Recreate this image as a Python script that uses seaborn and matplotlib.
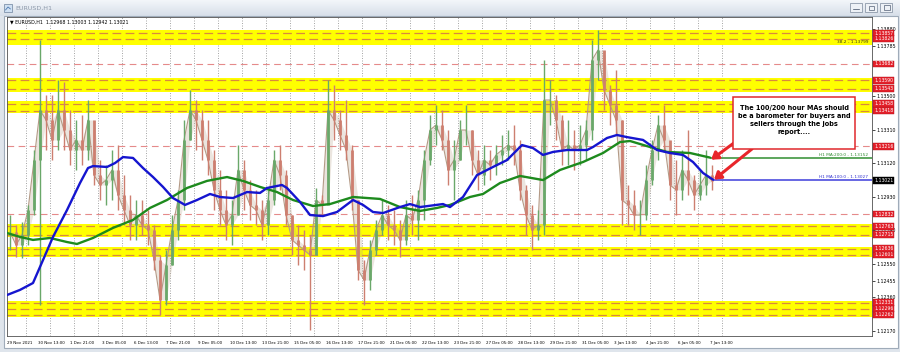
import numpy as np
import matplotlib
matplotlib.use("Agg")
import matplotlib.pyplot as plt
import seaborn as sns
from matplotlib.patches import Rectangle, FancyArrowPatch
from matplotlib.colors import LinearSegmentedColormap
from matplotlib.transforms import blended_transform_factory

sns.set_style("white")
plt.rcParams['font.family'] = ['DejaVu Sans']

# ---------------- data (EURUSD H1) ----------------
# bars grouped every 6 hours; x = hours since start of window
bar_x = list(range(3, 706, 6))
highs = [1.12827, 1.12770, 1.12787, 1.12884, 1.13195, 1.13818, 1.13506, 1.13506, 1.13591, 1.13580,
         1.13421, 1.13365, 1.13393, 1.13478, 1.13308, 1.13138, 1.13110, 1.13195, 1.13223, 1.13053,
         1.12940, 1.12912, 1.12912, 1.12855, 1.12770, 1.12601, 1.12629, 1.12827, 1.12969, 1.13365,
         1.13535, 1.13478, 1.13421, 1.13365, 1.13195, 1.13082, 1.12969, 1.12912, 1.13223, 1.13138,
         1.13025, 1.12969, 1.12912, 1.12969, 1.13195, 1.13223, 1.13082, 1.12827, 1.12770, 1.12742,
         1.12714, 1.12980, 1.12940, 1.13591, 1.13563, 1.13421, 1.13478, 1.13223, 1.12912, 1.12572,
         1.12686, 1.12799, 1.12912, 1.12884, 1.12855, 1.12799, 1.12912, 1.12940, 1.12969, 1.13195,
         1.13393, 1.13450, 1.13421, 1.13308, 1.13252, 1.13365, 1.13450, 1.13308, 1.13195, 1.13223,
         1.13195, 1.13223, 1.13280, 1.13308, 1.13336, 1.13252, 1.12997, 1.12884, 1.12855, 1.13704,
         1.13591, 1.13506, 1.13393, 1.13365, 1.13308, 1.13336, 1.13365, 1.13818, 1.13874, 1.13733,
         1.13563, 1.13648, 1.13365, 1.12997, 1.12969, 1.12912, 1.13110, 1.13252, 1.13393, 1.13450,
         1.13223, 1.13138, 1.13195, 1.13308, 1.13053, 1.13082, 1.13195, 1.13110]
lows = [1.12629, 1.12589, 1.12584, 1.12657, 1.12827, 1.12318, 1.13195, 1.13138, 1.13195, 1.13195,
        1.13110, 1.13082, 1.13110, 1.13138, 1.12997, 1.12912, 1.12884, 1.12912, 1.12855, 1.12770,
        1.12686, 1.12686, 1.12714, 1.12657, 1.12516, 1.12261, 1.12318, 1.12544, 1.12686, 1.12855,
        1.13252, 1.13195, 1.13138, 1.13053, 1.12855, 1.12770, 1.12686, 1.12657, 1.12827, 1.12855,
        1.12799, 1.12770, 1.12686, 1.12714, 1.12884, 1.12969, 1.12770, 1.12601, 1.12544, 1.12516,
        1.12176, 1.12629, 1.12827, 1.12912, 1.13252, 1.13195, 1.13138, 1.12855, 1.12459, 1.12318,
        1.12403, 1.12601, 1.12714, 1.12686, 1.12657, 1.12589, 1.12657, 1.12714, 1.12686, 1.12799,
        1.13110, 1.13223, 1.13195, 1.12997, 1.12912, 1.13138, 1.13223, 1.13053, 1.12969, 1.12997,
        1.13025, 1.13053, 1.13110, 1.13138, 1.13110, 1.12912, 1.12714, 1.12629, 1.12686, 1.12714,
        1.13336, 1.13252, 1.13110, 1.13110, 1.13082, 1.13110, 1.13138, 1.13252, 1.13591, 1.13421,
        1.13336, 1.13280, 1.12770, 1.12770, 1.12742, 1.12714, 1.12799, 1.12997, 1.13138, 1.13195,
        1.12912, 1.12827, 1.12912, 1.12940, 1.12855, 1.12912, 1.12940, 1.12969]
closes = [1.12731, 1.12657, 1.12714, 1.12855, 1.13138, 1.13421, 1.13365, 1.13252, 1.13421, 1.13308,
          1.13195, 1.13252, 1.13195, 1.13365, 1.13053, 1.12997, 1.13025, 1.13082, 1.12940, 1.12855,
          1.12770, 1.12827, 1.12770, 1.12742, 1.12572, 1.12346, 1.12544, 1.12742, 1.12912, 1.13252,
          1.13421, 1.13365, 1.13252, 1.13138, 1.12969, 1.12855, 1.12770, 1.12827, 1.13082, 1.12969,
          1.12884, 1.12855, 1.12770, 1.12912, 1.13138, 1.13053, 1.12827, 1.12686, 1.12657, 1.12629,
          1.12601, 1.12912, 1.12884, 1.13421, 1.13365, 1.13280, 1.13195, 1.12912, 1.12516, 1.12459,
          1.12629, 1.12742, 1.12827, 1.12770, 1.12742, 1.12686, 1.12827, 1.12799, 1.12912, 1.13138,
          1.13308, 1.13336, 1.13252, 1.13082, 1.13138, 1.13308, 1.13308, 1.13138, 1.13053, 1.13138,
          1.13110, 1.13167, 1.13195, 1.13223, 1.13195, 1.12969, 1.12827, 1.12742, 1.12770, 1.13478,
          1.13478, 1.13365, 1.13195, 1.13223, 1.13195, 1.13223, 1.13308, 1.13704, 1.13761, 1.13535,
          1.13450, 1.13365, 1.12912, 1.12884, 1.12827, 1.12827, 1.13025, 1.13195, 1.13336, 1.13252,
          1.12997, 1.12969, 1.13082, 1.13025, 1.12940, 1.12997, 1.13053, 1.13021]

ma100_x = [0, 13, 26, 36, 46, 60, 73, 81, 86, 100, 108, 116, 126, 136, 146, 156, 166, 178, 190, 203,
           213, 226, 240, 253, 260, 275, 280, 293, 303, 316, 330, 346, 356, 366, 376, 393, 403, 413, 436, 443,
           456, 470, 486, 500, 515, 526, 536, 546, 560, 580, 586, 600, 610, 620, 636, 650, 663, 676, 686, 696, 706]
ma100 = [1.12374, 1.12403, 1.12442, 1.12572, 1.12703, 1.12855, 1.13008, 1.13093, 1.13104, 1.13099,
         1.13121, 1.13155, 1.13150, 1.13093, 1.13042, 1.12986, 1.12923, 1.12884, 1.12912, 1.12946,
         1.12929, 1.12923, 1.12957, 1.12952, 1.12980, 1.12997, 1.12980, 1.12901, 1.12827, 1.12821,
         1.12844, 1.12912, 1.12884, 1.12844, 1.12838, 1.12872, 1.12889, 1.12872, 1.12889, 1.12872,
         1.12929, 1.13053, 1.13099, 1.13138, 1.13223, 1.13206, 1.13167, 1.13184, 1.13195, 1.13195,
         1.13212, 1.13263, 1.13280, 1.13268, 1.13252, 1.13195, 1.13178, 1.13167, 1.13127, 1.13065, 1.13027]
ma200_x = [0, 13, 26, 43, 60, 70, 86, 106, 126, 143, 160, 180, 200, 220, 236, 253, 270, 286, 306, 323,
           346, 373, 393, 413, 430, 443, 463, 476, 493, 513, 536, 553, 576, 596, 613, 623, 643, 660, 683, 703]
ma200 = [1.12725, 1.12703, 1.12686, 1.12697, 1.12674, 1.12663, 1.12697, 1.12754, 1.12799, 1.12867,
         1.12912, 1.12980, 1.13020, 1.13042, 1.13020, 1.12986, 1.12957, 1.12912, 1.12878, 1.12889,
         1.12929, 1.12918, 1.12872, 1.12850, 1.12867, 1.12884, 1.12929, 1.12946, 1.13008, 1.13048,
         1.13025, 1.13082, 1.13127, 1.13178, 1.13240, 1.13246, 1.13212, 1.13184, 1.13178, 1.13152]

band_lo = [1.13790, 1.13525, 1.13405, 1.12700, 1.12588, 1.12250]
band_hi = [1.13872, 1.13605, 1.13470, 1.12778, 1.12648, 1.12338]
band_lines = [1.13857, 1.13826, 1.13590, 1.13543, 1.13458, 1.13418, 1.12763, 1.12715,
              1.12636, 1.12601, 1.12331, 1.12296, 1.12262]
red_lines = [1.13682, 1.13216, 1.12832]
last_price = 1.13021
price_ticks = [1.12170, 1.12360, 1.12455, 1.12550, 1.12740, 1.12930, 1.13120, 1.13310, 1.13500,
               1.13785, 1.13880]
time_ticks = [0, 31, 63, 95, 127, 159, 191, 223, 255, 287, 319, 351, 383, 415, 447, 479, 511,
              543, 575, 607, 639, 671, 703]
time_labels = ["29 Nov 2021", "30 Nov 13:00", "1 Dec 21:00", "3 Dec 05:00", "6 Dec 13:00",
               "7 Dec 21:00", "9 Dec 05:00", "10 Dec 13:00", "13 Dec 21:00", "15 Dec 05:00",
               "16 Dec 13:00", "17 Dec 21:00", "21 Dec 05:00", "22 Dec 13:00", "23 Dec 21:00",
               "27 Dec 05:00", "28 Dec 13:00", "29 Dec 21:00", "31 Dec 05:00", "3 Jan 13:00",
               "4 Jan 21:00", "6 Jan 05:00", "7 Jan 13:00"]
grid_x = list(range(19, 716, 24))
note_lines = ["The 100/200 hour MAs should", "be a barometer for buyers and",
              "sellers through the jobs", "report...."]

# ---------------- figure & window chrome ----------------
fig = plt.figure(figsize=(9, 3.52), dpi=100)
fig.patch.set_facecolor('#dfe5ec')
bg = fig.add_axes([0, 0, 1, 1])
bg.axis('off')
grad = np.linspace(0, 1, 32).reshape(-1, 1)
bg.imshow(grad, extent=[0, 900, 16, 0], aspect='auto',
          cmap=LinearSegmentedColormap.from_list('tb', ['#f3f6fa', '#d7dfe9']))
bg.add_patch(Rectangle((4, 16), 894, 332, facecolor='white', edgecolor='#9fabb9', lw=0.8))
bg.add_patch(Rectangle((4, 4), 8, 8, facecolor='#cfe0f2', edgecolor='#7f93ab', lw=0.6))
bg.plot([5.5, 8, 10.5], [10, 7, 9], color='#4a78b0', lw=0.6)
bg.text(15, 8.5, "EURUSD,H1", fontsize=4.6, color='#8e9aab', va='center')
for bx in (850, 865, 880):
    bg.add_patch(Rectangle((bx, 3), 12, 9, facecolor='#edf1f6', edgecolor='#8d99aa', lw=0.6))
bg.plot([853, 859], [8.5, 8.5], color='#6b778a', lw=0.7)
bg.add_patch(Rectangle((868.5, 5.5), 5, 4, fill=False, edgecolor='#6b778a', lw=0.6))
bg.add_patch(Rectangle((883.5, 5), 6, 5, fill=False, edgecolor='#6b778a', lw=0.6))
bg.set_xlim(0, 900)
bg.set_ylim(352, 0)

# ---------------- chart axes ----------------
ax = fig.add_axes([7 / 900, 16 / 352, 865 / 900, 319 / 352])
ax.set_facecolor('none')
ax.set_xlim(0, 865)
ax.set_ylim(1.12142, 1.13948)

for gx in grid_x:
    ax.axvline(gx, color='#9a9a9a', lw=0.6, ls=(0, (1.2, 1.8)), zorder=1)

for lo, hi in zip(band_lo, band_hi):
    ax.axhspan(lo, hi, color='#ffff00', lw=0, zorder=1.2)
for lv in band_lines:
    ax.axhline(lv, color='#d98a3c', lw=0.9, ls=(0, (7, 3.5)), zorder=1.4)
for lv in red_lines:
    ax.axhline(lv, color='#e58a8a', lw=0.8, ls=(0, (6, 4)), zorder=1.4)

# candles
opens = [closes[0]] + closes[:-1]
cols = ['#6aa86a' if c >= o else '#cd7f70' for o, c in zip(opens, closes)]
body_lo = np.minimum(opens, closes)
body_hi = np.maximum(opens, closes)
ax.fill_between(bar_x, body_lo, body_hi, color='#b9a58c', alpha=0.28, lw=0, zorder=2.6)
sns.lineplot(x=bar_x, y=closes, ax=ax, color='#b49a86', lw=0.8, zorder=2.8, estimator=None)
ax.vlines(bar_x, lows, highs, colors=cols, lw=1.0, zorder=3)
ax.vlines(bar_x, body_lo, body_hi, colors=cols, lw=2.0, zorder=3)

# moving averages
sns.lineplot(x=ma200_x, y=ma200, ax=ax, color='#1d8a1d', lw=1.7, zorder=5, estimator=None)
sns.lineplot(x=ma100_x, y=ma100, ax=ax, color='#1515cf', lw=1.7, zorder=6, estimator=None)
ax.hlines(ma200[-1], ma200_x[-1], 865, color='#4f9f4f', lw=1.3, zorder=4)
ax.hlines(ma100[-1], ma100_x[-1], 865, color='#5a5ae0', lw=1.3, zorder=4)
ax.text(861, ma200[-1] + 0.00005, "H1 MA:200:0 - %.5f" % ma200[-1], fontsize=3.1,
        color='#2e8b2e', ha='right', va='bottom', zorder=7)
ax.text(861, ma100[-1] + 0.00005, "H1 MA:100:0 - %.5f" % ma100[-1], fontsize=3.1,
        color='#3030d0', ha='right', va='bottom', zorder=7)
ax.text(861, 1.13806, "38.2 - 1.13799", fontsize=3.1, color='#3a3a10', ha='right', va='center', zorder=7)

# header text
ax.text(0.003, 0.992, "\u25BC EURUSD,H1  1.12968 1.13003 1.12942 1.13021", transform=ax.transAxes,
        fontsize=3.4, color='black', va='top', ha='left', zorder=8)

# annotation box + arrows
for (x0, y0, x1, y1) in [(727, 1.13235, 704, 1.13140), (745, 1.13201, 707, 1.13027)]:
    ax.add_patch(FancyArrowPatch((x0, y0), (x1, y1), arrowstyle='-|>,head_length=4,head_width=2.6',
                                 color='#e8262b', lw=2.2, zorder=8, shrinkA=0, shrinkB=0))
ax.add_patch(Rectangle((726, 1.13201), 122, 0.00294, facecolor='white', edgecolor='#e0282c',
                       lw=1.1, zorder=9))
for i, line in enumerate(note_lines):
    ax.text(787, 1.13432 - i * 0.000455, line, fontsize=4.7, fontweight='bold', color='black',
            ha='center', va='center', zorder=10)

# axes styling
for s in ax.spines.values():
    s.set_color('#505050')
    s.set_linewidth(0.6)
ax.yaxis.tick_right()
ax.set_yticks(price_ticks)
ax.set_yticklabels(["%.5f" % v for v in price_ticks])
ax.tick_params(axis='y', labelsize=3.4, length=2, width=0.5, pad=1.5, colors='black')
ax.set_xticks(time_ticks)
ax.set_xticklabels(time_labels, ha='left')
ax.tick_params(axis='x', labelsize=2.9, length=2, width=0.5, pad=1.8, colors='black')
ax.set_xlabel('')
ax.set_ylabel('')

tr = blended_transform_factory(ax.transAxes, ax.transData)
for lv in sorted(band_lines + red_lines):
    ax.text(1.0025, lv, "%.5f" % lv, transform=tr, fontsize=3.3, color='white', ha='left',
            va='center', zorder=20, clip_on=False,
            bbox=dict(boxstyle='square,pad=0.18', facecolor='#e3202a', edgecolor='#b01018', lw=0.3))
ax.text(1.0025, last_price, "%.5f" % last_price, transform=tr, fontsize=3.3, color='white',
        ha='left', va='center', zorder=20, clip_on=False,
        bbox=dict(boxstyle='square,pad=0.18', facecolor='black', edgecolor='black', lw=0.3))

fig.savefig("out.png", dpi=100, facecolor=fig.get_facecolor())
